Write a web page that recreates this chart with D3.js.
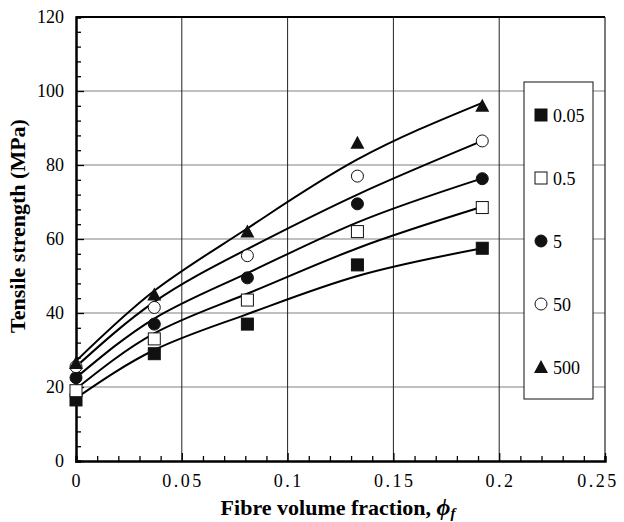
<!DOCTYPE html>
<html>
<head>
<meta charset="utf-8">
<script src="https://cdn.jsdelivr.net/npm/d3@7"></script>
<style>
  body { margin: 0; background: #fff; }
</style>
</head>
<body>
<div id="app"></div>
<script>
const W = 624, H = 522
const FONT = 'Liberation Serif'

// series labels (legend) and symbol type
const seriesNames = ['0.05', '0.5', '5', '50', '500']
const symbols = ['fsquare', 'osquare', 'fcircle', 'ocircle', 'triangle']

// measured points
const pointX = [0, 0.037, 0.081, 0.133, 0.192]
const pts005 = [16.5, 29, 37, 53, 57.5]
const pts05 = [19, 33, 43.5, 62, 68.5]
const pts5 = [22.5, 37, 49.5, 69.5, 76.3]
const pts50 = [25.5, 41.5, 55.5, 77, 86.5]
const pts500 = [26.5, 45, 62, 86, 96]

// model curves
const curveX = [0, 0.037, 0.08, 0.133, 0.192]
const crv005 = [17, 30, 39.5, 50, 57.5]
const crv05 = [19.5, 34.5, 45, 57.5, 68.7]
const crv5 = [22.5, 38.5, 50.5, 64.5, 76.4]
const crv50 = [25.5, 43, 57, 72, 86.5]
const crv500 = [27, 46, 62.5, 81.5, 96.8]

const xTicks = [0, 0.05, 0.1, 0.15, 0.2, 0.25]
const yTicks = [0, 20, 40, 60, 80, 100, 120]

const pointSets = [pts005, pts05, pts5, pts50, pts500]
const curveSets = [crv005, crv05, crv5, crv50, crv500]

const svg = d3.select('#app').append('svg').attr('width', W).attr('height', H)

const x = d3.scaleLinear().domain([0, 0.25]).range([76, 605])
const y = d3.scaleLinear().domain([0, 120]).range([461, 17])

// gridlines
svg.append('g').selectAll('line')
  .data(yTicks.filter(v => v > 0 && v < 120))
  .enter().append('line')
  .attr('x1', x(0)).attr('x2', x(0.25))
  .attr('y1', d => y(d)).attr('y2', d => y(d))
  .attr('stroke', '#808080').attr('stroke-width', 1.2)

svg.append('g').selectAll('line')
  .data(xTicks.filter(v => v > 0 && v < 0.25))
  .enter().append('line')
  .attr('x1', d => x(d)).attr('x2', d => x(d))
  .attr('y1', y(0)).attr('y2', y(120))
  .attr('stroke', '#222').attr('stroke-width', 1)

// frame
svg.append('line').attr('x1', x(0)).attr('x2', x(0.25)).attr('y1', y(120)).attr('y2', y(120))
  .attr('stroke', '#000').attr('stroke-width', 2)
svg.append('line').attr('x1', x(0.25)).attr('x2', x(0.25)).attr('y1', y(120)).attr('y2', y(0))
  .attr('stroke', '#222').attr('stroke-width', 1.2)

// axes
const xAxis = d3.axisBottom(x).tickValues(d3.range(0, 0.2501, 0.01)).tickSize(-5).tickFormat('')
const gx = svg.append('g').attr('transform', `translate(0,${y(0)})`).call(xAxis)
gx.selectAll('.tick line').attr('stroke', '#000').attr('stroke-width', 1.3)
  .attr('y2', (d, i) => i % 5 === 0 ? -8 : -5)
gx.select('.domain').attr('stroke', '#000').attr('stroke-width', 2.5)

const yAxis = d3.axisLeft(y).tickValues(d3.range(0, 121, 4)).tickSize(-5).tickFormat('')
const gy = svg.append('g').attr('transform', `translate(${x(0)},0)`).call(yAxis)
gy.selectAll('.tick line').attr('stroke', '#000').attr('stroke-width', 1.3)
  .attr('x2', (d, i) => i % 5 === 0 ? 8 : 5)
gy.select('.domain').attr('stroke', '#000').attr('stroke-width', 2.5)

// tick labels (last one pulled in so it stays on the page)
svg.append('g').selectAll('text')
  .data(xTicks).enter().append('text')
  .attr('x', d => Math.min(x(d) + 1.25, W - 26))
  .attr('y', 487)
  .attr('text-anchor', 'middle')
  .attr('font-family', FONT)
  .attr('font-size', 18)
  .attr('letter-spacing', 2.5)
  .text(d => d === 0 ? '0' : String(d))

svg.append('g').selectAll('text')
  .data(yTicks).enter().append('text')
  .attr('x', 64).attr('y', d => y(d) + 6)
  .attr('text-anchor', 'end')
  .attr('font-family', FONT)
  .attr('font-size', 18)
  .text(d => d)

// axis titles
const xt = svg.append('text')
  .attr('x', 338).attr('y', 515)
  .attr('text-anchor', 'middle')
  .attr('font-family', FONT)
  .attr('font-size', 22).attr('font-weight', 'bold')
xt.append('tspan').text('Fibre volume fraction, ')
xt.append('tspan').attr('font-style', 'italic').attr('font-size', 24).text('\u03D5')
xt.append('tspan').attr('font-style', 'italic').attr('font-size', 15).attr('dy', 3).text('f')

svg.append('text')
  .attr('transform', 'translate(25,226) rotate(-90)')
  .attr('text-anchor', 'middle')
  .attr('font-family', FONT)
  .attr('font-size', 22).attr('font-weight', 'bold')
  .text('Tensile strength (MPa)')

// curves
const line = d3.line().x(d => x(d[0])).y(d => y(d[1])).curve(d3.curveNatural)
svg.append('g').selectAll('path')
  .data(curveSets).enter().append('path')
  .attr('d', c => line(curveX.map((v, i) => [v, c[i]])))
  .attr('fill', 'none').attr('stroke', '#000').attr('stroke-width', 2)

// symbols
function drawSymbol(g, type, cx, cy) {
  if (type === 'fsquare' || type === 'osquare') {
    g.append('rect').attr('x', cx - 6).attr('y', cy - 6).attr('width', 12).attr('height', 12)
      .attr('fill', type === 'fsquare' ? '#111' : '#fff').attr('stroke', '#111').attr('stroke-width', 1)
  } else if (type === 'fcircle' || type === 'ocircle') {
    g.append('circle').attr('cx', cx).attr('cy', cy).attr('r', 6)
      .attr('fill', type === 'fcircle' ? '#111' : '#fff').attr('stroke', '#111').attr('stroke-width', 1)
  } else {
    g.append('path').attr('d', `M${cx},${cy - 7} L${cx + 7},${cy + 6} L${cx - 7},${cy + 6} Z`)
      .attr('fill', '#111')
  }
}

const markG = svg.append('g')
pointSets.forEach((s, si) => {
  s.forEach((v, i) => drawSymbol(markG, symbols[si], x(pointX[i]), y(v)))
})

// legend
const legG = svg.append('g')
legG.append('rect').attr('x', 524).attr('y', 82).attr('width', 69).attr('height', 317)
  .attr('fill', '#fff').attr('stroke', '#111').attr('stroke-width', 1)
const legY = d3.scalePoint().domain(seriesNames).range([115, 367])
seriesNames.forEach((n, i) => {
  drawSymbol(legG, symbols[i], 541, legY(n))
  legG.append('text').attr('x', 553).attr('y', legY(n) + 7)
    .attr('font-family', FONT)
    .attr('font-size', 18).text(n)
})
</script>
</body>
</html>
